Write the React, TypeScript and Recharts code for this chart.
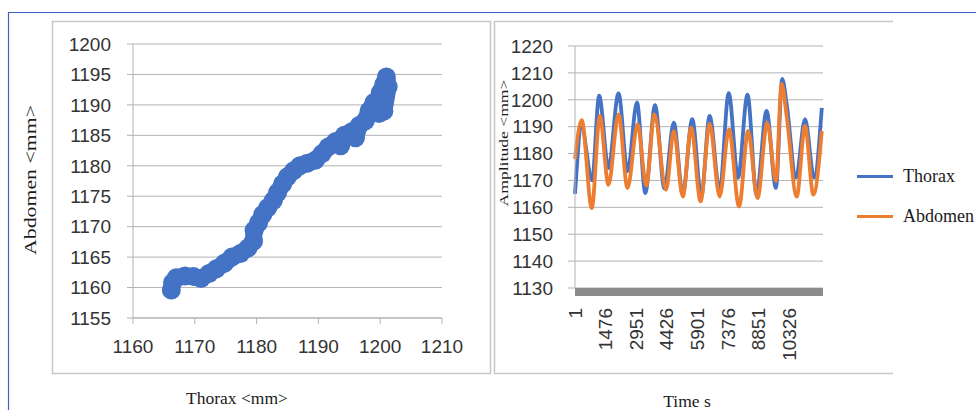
import React from "react";
import {
  ScatterChart,
  Scatter,
  LineChart,
  Line,
  XAxis,
  YAxis,
  CartesianGrid,
  ReferenceArea
} from "recharts";

// left panel: thorax vs abdomen (mm)
const scatterThorax = [
  1166.2, 1166.4, 1167.0, 1168.4, 1169.8, 1171.0, 1172.3, 1173.5, 1174.8, 1176.0,
  1177.4, 1178.6, 1179.5, 1179.6, 1180.3, 1181.0, 1181.8, 1182.7, 1183.4, 1184.2,
  1185.0, 1186.0, 1187.0, 1188.2, 1189.5, 1190.6, 1191.6, 1192.8, 1193.6, 1194.2,
  1195.4, 1196.0, 1196.6, 1197.6, 1198.2, 1199.0, 1199.8, 1200.2, 1200.0, 1200.6,
  1201.0, 1201.3, 1200.6
];
const scatterAbdomen = [
  1159.6, 1160.8, 1161.6, 1161.9, 1161.8, 1161.5, 1162.3, 1163.1, 1164.0, 1165.0,
  1165.6, 1166.5, 1167.6, 1169.4, 1170.6, 1172.0, 1173.1, 1174.3, 1175.6, 1177.0,
  1178.2, 1179.2, 1180.0, 1180.4, 1180.9, 1182.0, 1183.1, 1184.0, 1183.3, 1185.0,
  1185.6, 1184.6, 1186.6, 1187.4, 1189.0, 1190.4, 1188.6, 1190.6, 1192.0, 1193.4,
  1194.6, 1193.0, 1189.0
];

// right panel: amplitude over time (samples)
const thoraxTime = [
  1, 325, 824, 1163, 1613, 2097, 2533, 2988, 3389, 3858, 4309, 4759, 5194, 5650, 6085,
  6487, 6971, 7407, 7857, 8312, 8747, 9231, 9681, 9986, 10199, 10649, 11085, 11520, 11893
];
const thoraxAmp = [
  1165, 1189.6, 1170, 1201.5, 1174.6, 1202.4, 1173.4, 1199, 1165.3, 1198, 1167, 1191.5,
  1165, 1192.8, 1164, 1194, 1166, 1202.5, 1171, 1201.9, 1164.7, 1195.9, 1167.2, 1207.8,
  1198.4, 1171, 1192.8, 1171, 1197
];
const abdomenTime = [
  1, 325, 809, 1196, 1613, 2097, 2533, 3017, 3438, 3825, 4391, 4759, 5194, 5601, 6051,
  6487, 6971, 7421, 7905, 8341, 8796, 9260, 9681, 9957, 10199, 10683, 11085, 11486, 11893
];
const abdomenAmp = [
  1178, 1192.4, 1159.7, 1194, 1168.4, 1194.6, 1167.2, 1190.9, 1168, 1194.6, 1166.5,
  1188.4, 1164, 1189.6, 1162.2, 1191, 1164, 1189, 1160.3, 1188.4, 1163.4, 1191.5, 1169.7,
  1205.9, 1194, 1164, 1190.3, 1164.7, 1188.4
];

const thoraxTicks = [1160, 1170, 1180, 1190, 1200, 1210];
const abdomenTicks = [1155, 1160, 1165, 1170, 1175, 1180, 1185, 1190, 1195, 1200];
const ampTicks = [1130, 1140, 1150, 1160, 1170, 1180, 1190, 1200, 1210, 1220];
const timeTicks = [1, 1476, 2951, 4426, 5901, 7376, 8851, 10326];
const legendNames = ["Thorax", "Abdomen"];

const BLUE = "#4472c4";
const ORANGE = "#ed7d31";
const GRID = "#b3b3b3";
const tickStyle = { fontFamily: "Liberation Sans", fontSize: 19, fill: "#333" };
const serif = "Liberation Serif";

const scatterData = scatterThorax.map((x, i) => ({ x, y: scatterAbdomen[i] }));
const thoraxData = thoraxTime.map((t, i) => ({ t, v: thoraxAmp[i] }));
const abdomenData = abdomenTime.map((t, i) => ({ t, v: abdomenAmp[i] }));

const Blob = (props: any) => <circle cx={props.cx} cy={props.cy} r={9.5} fill={BLUE} />;

const TimeTick = (props: any) => {
  const { x, y, payload } = props;
  return (
    <text
      x={x}
      y={y}
      transform={`rotate(-90, ${x}, ${y})`}
      textAnchor="end"
      dominantBaseline="central"
      {...tickStyle}
    >
      {payload.value}
    </text>
  );
};

export default function App() {
  return (
    <div style={{ position: "absolute", left: 0, top: 0, width: 976, height: 410, background: "#fff", overflow: "hidden" }}>
      <svg width={976} height={410} style={{ position: "absolute", left: 0, top: 0 }}>
        <path d="M8.5,420 V12.5 H976" fill="none" stroke="#3d63c4" strokeWidth={1.2} />
        <rect x={52.5} y={21.5} width={438} height={352} fill="none" stroke="#c8c8c8" strokeWidth={1.5} />
        <path d="M893,21.5 H494.5 V373.5 H893" fill="none" stroke="#c8c8c8" strokeWidth={1.5} />
      </svg>

      <div style={{ position: "absolute", left: 0, top: 0 }}>
        <ScatterChart width={490} height={410} margin={{ top: 44, right: 48, bottom: 52, left: 0 }}>
          <CartesianGrid horizontal vertical={false} stroke={GRID} />
          <XAxis
            type="number"
            dataKey="x"
            domain={[1160, 1210]}
            ticks={thoraxTicks}
            interval={0}
            height={40}
            stroke={GRID}
            tickSize={6}
            tickMargin={16}
            tick={tickStyle}
          />
          <YAxis
            type="number"
            dataKey="y"
            domain={[1155, 1200]}
            ticks={abdomenTicks}
            interval={0}
            width={133}
            stroke={GRID}
            tickSize={6}
            tickMargin={16}
            tick={tickStyle}
          />
          <Scatter
            data={scatterData}
            fill={BLUE}
            shape={Blob}
            line={{ stroke: BLUE, strokeWidth: 17, strokeLinejoin: "round", strokeLinecap: "round" }}
            isAnimationActive={false}
          />
        </ScatterChart>
      </div>

      <div style={{ position: "absolute", left: 494, top: 0 }}>
        <LineChart width={340} height={410} margin={{ top: 46, right: 11, bottom: 42, left: 0 }}>
          <CartesianGrid horizontal vertical={false} stroke={GRID} />
          <XAxis
            type="number"
            dataKey="t"
            domain={[1, 11950]}
            ticks={timeTicks}
            interval={0}
            height={80}
            axisLine={false}
            tickLine={false}
            tickMargin={14}
            tick={<TimeTick />}
          />
          <YAxis
            type="number"
            domain={[1130, 1220]}
            ticks={ampTicks}
            interval={0}
            width={81}
            stroke={GRID}
            tickSize={7}
            tickMargin={15}
            tick={tickStyle}
          />
          <ReferenceArea x1={1} x2={11950} y1={1127} y2={1130} fill="#8c8c8c" fillOpacity={1} stroke="none" ifOverflow="visible" />
          <Line data={thoraxData} dataKey="v" name="Thorax" type="monotone" stroke={BLUE} strokeWidth={3.8} dot={false} isAnimationActive={false} />
          <Line data={abdomenData} dataKey="v" name="Abdomen" type="monotone" stroke={ORANGE} strokeWidth={3.8} dot={false} isAnimationActive={false} />
        </LineChart>
      </div>

      <div style={{ position: "absolute", left: 857, top: 156, fontFamily: serif, fontSize: 18, color: "#1a1a1a" }}>
        {legendNames.map((n, i) => (
          <div key={n} style={{ display: "flex", alignItems: "center", height: 40 }}>
            <span style={{ display: "inline-block", width: 36, height: 3, background: i === 0 ? BLUE : ORANGE, marginRight: 10 }} />
            {n}
          </div>
        ))}
      </div>

      <svg width={976} height={410} style={{ position: "absolute", left: 0, top: 0, pointerEvents: "none" }}>
        <text
          x={0}
          y={0}
          transform="translate(36,180) rotate(-90)"
          textAnchor="middle"
          fontFamily={serif}
          fontSize={17}
          fill="#1a1a1a"
          textLength={150}
          lengthAdjust="spacingAndGlyphs"
        >
          Abdomen &lt;mm&gt;
        </text>
        <text x={237} y={404} textAnchor="middle" fontFamily={serif} fontSize={17.5} fill="#1a1a1a">
          Thorax &lt;mm&gt;
        </text>
        <text
          x={0}
          y={0}
          transform="translate(508,143) rotate(-90)"
          textAnchor="middle"
          fontFamily={serif}
          fontSize={12.5}
          fill="#1a1a1a"
          textLength={127}
          lengthAdjust="spacingAndGlyphs"
        >
          Amplitude &lt;mm&gt;
        </text>
        <text x={687} y={407} textAnchor="middle" fontFamily={serif} fontSize={17.5} fill="#1a1a1a">
          Time s
        </text>
      </svg>
    </div>
  );
}
